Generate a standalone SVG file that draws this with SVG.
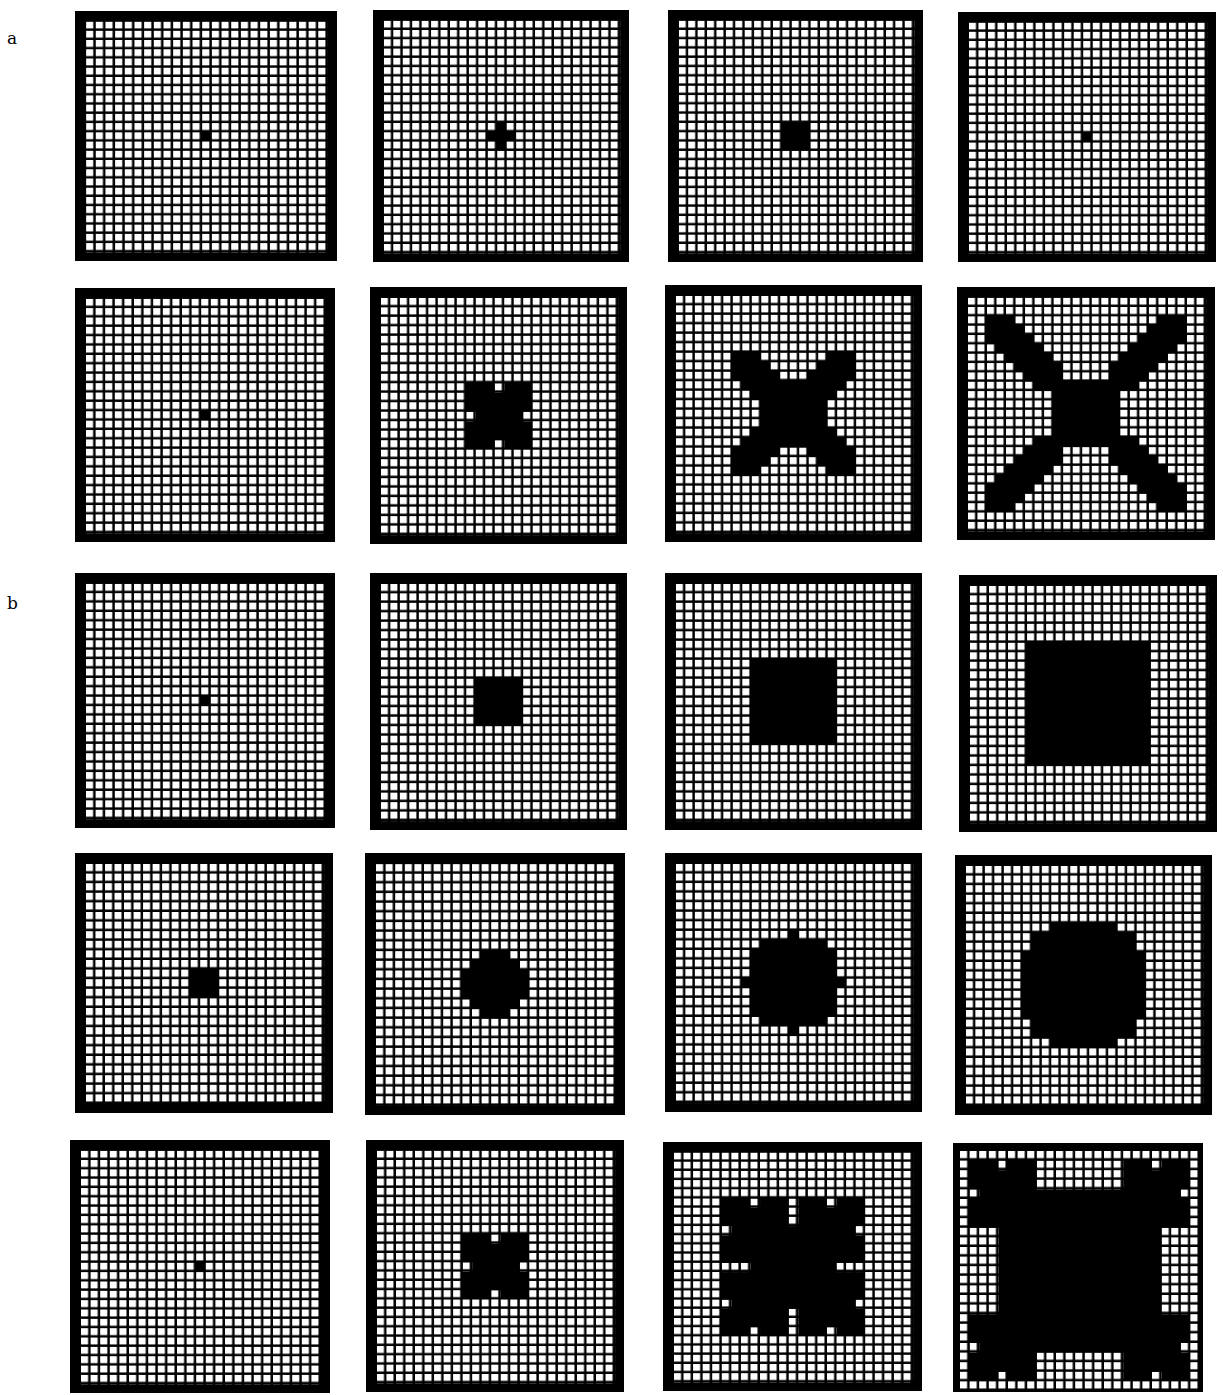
<svg xmlns="http://www.w3.org/2000/svg" width="1223" height="1395" viewBox="0 0 1223 1395">
<defs>
<pattern id="cells" patternUnits="userSpaceOnUse" x="0" y="0" width="1" height="1">
<rect x="0" y="0" width="0.74" height="0.74" fill="#fff"/>
</pattern>
<style>
.frame{fill:#000}
.grid,.h{fill:url(#cells)}
.k{fill:#000}
.lbl{font-family:"DejaVu Serif","Liberation Serif",serif;font-size:17px;fill:#000}
</style>
</defs>
<rect width="1223" height="1395" fill="#fff"/>
<text class="lbl" x="7" y="44">a</text>
<text class="lbl" x="7" y="609">b</text>

<!-- row a1 -->
<g id="a1-1" transform="translate(75 11) scale(1.0077 0.9615)">
<rect class="frame" width="260" height="260"/>
<g transform="translate(11 11) scale(9.6)"><rect class="grid" width="25" height="25"/>
<rect class="k" x="11.9" y="11.9" width="1" height="1"/></g></g>

<g id="a1-2" transform="translate(373 10) scale(0.9846 0.9692)">
<rect class="frame" width="260" height="260"/>
<g transform="translate(11 11) scale(9.6)"><rect class="grid" width="25" height="25"/>
<rect class="k" x="10.9" y="11.9" width="3" height="1"/><rect class="k" x="11.9" y="10.9" width="1" height="3"/></g></g>

<g id="a1-3" transform="translate(668 10) scale(0.9808 0.9692)">
<rect class="frame" width="260" height="260"/>
<g transform="translate(11 11) scale(9.6)"><rect class="grid" width="25" height="25"/>
<rect class="k" x="10.9" y="10.9" width="3" height="3"/></g></g>

<g id="a1-4" transform="translate(958 12) scale(0.9923 0.9615)">
<rect class="frame" width="260" height="260"/>
<g transform="translate(11 11) scale(9.6)"><rect class="grid" width="25" height="25"/>
<rect class="k" x="11.9" y="11.9" width="1" height="1"/></g></g>

<!-- row a2 -->
<g id="a2-1" transform="translate(75 288) scale(1 0.9769)">
<rect class="frame" width="260" height="260"/>
<g transform="translate(11 11) scale(9.6)"><rect class="grid" width="25" height="25"/>
<rect class="k" x="11.9" y="11.9" width="1" height="1"/></g></g>

<g id="a2-2" transform="translate(370 287) scale(0.9885 0.9885)">
<rect class="frame" width="260" height="260"/>
<g transform="translate(11 11) scale(9.6)"><rect class="grid" width="25" height="25"/>
<rect class="k" x="8.9" y="8.9" width="7" height="7"/>
<rect class="h" x="12" y="9" width="1" height="1"/><rect class="h" x="9" y="12" width="1" height="1"/>
<rect class="h" x="15" y="12" width="1" height="1"/><rect class="h" x="12" y="15" width="1" height="1"/></g></g>

<g id="a2-3" transform="translate(665 285) scale(0.9885 0.9885)">
<rect class="frame" width="260" height="260"/>
<g transform="translate(11 11) scale(9.6)"><rect class="grid" width="25" height="25"/>
<rect class="k" x="5.9" y="5.9" width="3" height="1"/><rect class="k" x="15.9" y="5.9" width="3" height="1"/>
<rect class="k" x="5.9" y="6.9" width="4" height="1"/><rect class="k" x="14.9" y="6.9" width="4" height="1"/>
<rect class="k" x="5.9" y="7.9" width="5" height="1"/><rect class="k" x="13.9" y="7.9" width="5" height="1"/>
<rect class="k" x="6.9" y="8.9" width="11" height="1"/>
<rect class="k" x="7.9" y="9.9" width="9" height="1"/>
<rect class="k" x="8.9" y="10.9" width="7" height="3"/>
<rect class="k" x="7.9" y="13.9" width="9" height="1"/>
<rect class="k" x="6.9" y="14.9" width="11" height="1"/>
<rect class="k" x="5.9" y="15.9" width="5" height="1"/><rect class="k" x="13.9" y="15.9" width="5" height="1"/>
<rect class="k" x="5.9" y="16.9" width="4" height="1"/><rect class="k" x="14.9" y="16.9" width="4" height="1"/>
<rect class="k" x="5.9" y="17.9" width="3" height="1"/><rect class="k" x="15.9" y="17.9" width="3" height="1"/></g></g>

<g id="a2-4" transform="translate(957 287) scale(0.9923 0.9731)">
<rect class="frame" width="260" height="260"/>
<g transform="translate(11 11) scale(9.6)"><rect class="grid" width="25" height="25"/>
<rect class="k" x="1.9" y="1.9" width="3" height="1"/><rect class="k" x="19.9" y="1.9" width="3" height="1"/>
<rect class="k" x="1.9" y="2.9" width="4" height="1"/><rect class="k" x="18.9" y="2.9" width="4" height="1"/>
<rect class="k" x="1.9" y="3.9" width="5" height="1"/><rect class="k" x="17.9" y="3.9" width="5" height="1"/>
<rect class="k" x="2.9" y="4.9" width="5" height="1"/><rect class="k" x="16.9" y="4.9" width="5" height="1"/>
<rect class="k" x="3.9" y="5.9" width="5" height="1"/><rect class="k" x="15.9" y="5.9" width="5" height="1"/>
<rect class="k" x="4.9" y="6.9" width="5" height="1"/><rect class="k" x="14.9" y="6.9" width="5" height="1"/>
<rect class="k" x="5.9" y="7.9" width="4" height="1"/><rect class="k" x="14.9" y="7.9" width="4" height="1"/>
<rect class="k" x="6.9" y="8.9" width="11" height="1"/>
<rect class="k" x="8.9" y="9.9" width="7" height="5"/>
<rect class="k" x="6.9" y="14.9" width="11" height="1"/>
<rect class="k" x="5.9" y="15.9" width="4" height="1"/><rect class="k" x="14.9" y="15.9" width="4" height="1"/>
<rect class="k" x="4.9" y="16.9" width="5" height="1"/><rect class="k" x="14.9" y="16.9" width="5" height="1"/>
<rect class="k" x="3.9" y="17.9" width="5" height="1"/><rect class="k" x="15.9" y="17.9" width="5" height="1"/>
<rect class="k" x="2.9" y="18.9" width="5" height="1"/><rect class="k" x="16.9" y="18.9" width="5" height="1"/>
<rect class="k" x="1.9" y="19.9" width="5" height="1"/><rect class="k" x="17.9" y="19.9" width="5" height="1"/>
<rect class="k" x="1.9" y="20.9" width="4" height="1"/><rect class="k" x="18.9" y="20.9" width="4" height="1"/>
<rect class="k" x="1.9" y="21.9" width="3" height="1"/><rect class="k" x="19.9" y="21.9" width="3" height="1"/></g></g>

<!-- row b1 -->
<g id="b1-1" transform="translate(75 573) scale(1 0.9808)">
<rect class="frame" width="260" height="260"/>
<g transform="translate(11 11) scale(9.6)"><rect class="grid" width="25" height="25"/>
<rect class="k" x="11.9" y="11.9" width="1" height="1"/></g></g>

<g id="b1-2" transform="translate(370 573) scale(0.9885 0.9885)">
<rect class="frame" width="260" height="260"/>
<g transform="translate(11 11) scale(9.6)"><rect class="grid" width="25" height="25"/>
<rect class="k" x="9.9" y="9.9" width="5" height="5"/></g></g>

<g id="b1-3" transform="translate(665 573) scale(0.9885 0.9885)">
<rect class="frame" width="260" height="260"/>
<g transform="translate(11 11) scale(9.6)"><rect class="grid" width="25" height="25"/>
<rect class="k" x="7.9" y="7.9" width="9" height="9"/></g></g>

<g id="b1-4" transform="translate(959 575) scale(0.9923 0.9885)">
<rect class="frame" width="260" height="260"/>
<g transform="translate(11 11) scale(9.6)"><rect class="grid" width="25" height="25"/>
<rect class="k" x="5.9" y="5.9" width="13" height="13"/></g></g>

<!-- row b2 -->
<g id="b2-1" transform="translate(75 853) scale(0.9923 1)">
<rect class="frame" width="260" height="260"/>
<g transform="translate(11 11) scale(9.6)"><rect class="grid" width="25" height="25"/>
<rect class="k" x="10.9" y="10.9" width="3" height="3"/></g></g>

<g id="b2-2" transform="translate(365 853) scale(1 1.0077)">
<rect class="frame" width="260" height="260"/>
<g transform="translate(11 11) scale(9.6)"><rect class="grid" width="25" height="25"/>
<rect class="k" x="10.9" y="8.9" width="3" height="7"/>
<rect class="k" x="9.9" y="9.9" width="5" height="5"/>
<rect class="k" x="8.9" y="10.9" width="7" height="3"/></g></g>

<g id="b2-3" transform="translate(665 853) scale(0.9885 0.9962)">
<rect class="frame" width="260" height="260"/>
<g transform="translate(11 11) scale(9.6)"><rect class="grid" width="25" height="25"/>
<rect class="k" x="8.9" y="7.9" width="7" height="9"/>
<rect class="k" x="7.9" y="8.9" width="9" height="7"/>
<rect class="k" x="11.9" y="6.9" width="1" height="11"/>
<rect class="k" x="6.9" y="11.9" width="11" height="1"/></g></g>

<g id="b2-4" transform="translate(955 855) scale(0.9885 1)">
<rect class="frame" width="260" height="260"/>
<g transform="translate(11 11) scale(9.6)"><rect class="grid" width="25" height="25"/>
<rect class="k" x="8.9" y="5.9" width="7" height="13"/>
<rect class="k" x="6.9" y="6.9" width="11" height="11"/>
<rect class="k" x="5.9" y="8.9" width="13" height="7"/></g></g>

<!-- row b3 -->
<g id="b3-1" transform="translate(70 1140) scale(1 0.9731)">
<rect class="frame" width="260" height="260"/>
<g transform="translate(11 11) scale(9.6)"><rect class="grid" width="25" height="25"/>
<rect class="k" x="11.9" y="11.9" width="1" height="1"/></g></g>

<g id="b3-2" transform="translate(366 1140) scale(0.9923 0.9692)">
<rect class="frame" width="260" height="260"/>
<g transform="translate(11 11) scale(9.6)"><rect class="grid" width="25" height="25"/>
<rect class="k" x="8.9" y="8.9" width="7" height="7"/>
<rect class="h" x="12" y="9" width="1" height="1"/><rect class="h" x="9" y="12" width="1" height="1"/>
<rect class="h" x="15" y="12" width="1" height="1"/><rect class="h" x="12" y="15" width="1" height="1"/></g></g>

<g id="b3-3" transform="translate(663 1142) scale(0.9962 0.9577)">
<rect class="frame" width="260" height="260"/>
<g transform="translate(11 11) scale(9.6)"><rect class="grid" width="25" height="25"/>
<rect class="k" x="4.9" y="4.9" width="15" height="15"/>
<rect class="h" x="12" y="5" width="1" height="3"/><rect class="h" x="12" y="17" width="1" height="3"/>
<rect class="h" x="5" y="12" width="3" height="1"/><rect class="h" x="17" y="12" width="3" height="1"/>
<rect class="h" x="8" y="5" width="1" height="1"/><rect class="h" x="16" y="5" width="1" height="1"/>
<rect class="h" x="5" y="8" width="1" height="1"/><rect class="h" x="19" y="8" width="1" height="1"/>
<rect class="h" x="5" y="16" width="1" height="1"/><rect class="h" x="19" y="16" width="1" height="1"/>
<rect class="h" x="8" y="19" width="1" height="1"/><rect class="h" x="16" y="19" width="1" height="1"/></g></g>

<g id="b3-4" transform="translate(953 1143)">
<rect class="frame" width="250" height="249"/>
<g transform="translate(7 8) scale(9.6)"><rect class="grid" width="25" height="25"/>
<rect class="k" x="0.9" y="0.9" width="23" height="23"/>
<rect class="h" x="8" y="1" width="9" height="3"/><rect class="h" x="8" y="21" width="9" height="3"/>
<rect class="h" x="1" y="8" width="3" height="9"/><rect class="h" x="21" y="8" width="3" height="9"/>
<rect class="h" x="4" y="1" width="1" height="1"/><rect class="h" x="20" y="1" width="1" height="1"/>
<rect class="h" x="1" y="4" width="1" height="1"/><rect class="h" x="23" y="4" width="1" height="1"/>
<rect class="h" x="1" y="20" width="1" height="1"/><rect class="h" x="23" y="20" width="1" height="1"/>
<rect class="h" x="4" y="23" width="1" height="1"/><rect class="h" x="20" y="23" width="1" height="1"/></g></g>
</svg>
